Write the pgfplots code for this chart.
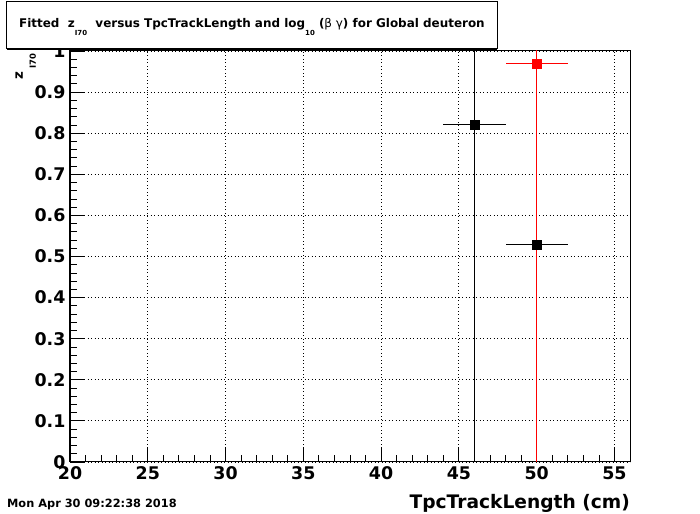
\documentclass[border=0pt]{standalone}
\usepackage{fontspec}
\setmainfont{DejaVu Sans}
\usepackage{pgfplots}
\pgfplotsset{compat=1.18}
\begin{document}
\begin{tikzpicture}[x=1bp,y=1bp]
\path[use as bounding box] (-70,-52) rectangle (630,462);
\begin{axis}[
  at={(0,0)}, anchor=south west,
  scale only axis, width=560bp, height=411bp,
  xmin=20, xmax=56, ymin=0, ymax=1,
  xtick={20,25,30,35,40,45,50,55},
  ytick={0,0.1,0.2,0.3,0.4,0.5,0.6,0.7,0.8,0.9,1},
  yticklabels={0,0.1,0.2,0.3,0.4,0.5,0.6,0.7,0.8,0.9,1},
  minor x tick num=4, minor y tick num=4,
  tick pos=left, tick align=inside,
  major tick length=14bp, minor tick length=7bp,
  tick style={black, line width=0.8bp},
  grid=major,
  major grid style={black, line width=0.8bp, dash pattern=on 0.9bp off 2.6bp},
  axis line style={black, line width=1bp},
  /pgf/number format/assume math mode=true,
  tick label style={font=\fontsize{17.5}{17.5}\selectfont\bfseries},
  xticklabel style={yshift=-1bp},
  yticklabel style={xshift=-1bp},
  clip=true,
]
\addplot[black, only marks, mark=square*, mark size=4.4bp, mark options={solid, fill=black},
  error bars/.cd, x dir=both, x explicit, y dir=both, y explicit,
  error mark=none, error bar style={line width=1bp, black}]
  table[x=x, y=y, x error=ex, y error=ey] {
  x   y     ex  ey
  46  0.82  2   2.0
  50  0.528 2   2.0
};
\addplot[red, only marks, mark=square*, mark size=4.4bp, mark options={solid, fill=red},
  error bars/.cd, x dir=both, x explicit, y dir=both, y explicit,
  error mark=none, error bar style={line width=1bp, red}]
  table[x=x, y=y, x error=ex, y error=ey] {
  x   y     ex  ey
  50  0.97  2   2.0
};
\end{axis}
% title box
\fill[white] (-63,413) rectangle (427,460);
\draw[black, line width=1bp] (-63,413) rectangle (427,460);
\draw[black, line width=2bp] (-63,412.5) -- (427,412.5);
\node[anchor=base west, inner sep=0, font=\fontsize{12}{12}\selectfont\bfseries] at (-51,434)
  {Fitted \ z\raisebox{-8bp}{\fontsize{7}{7}\selectfont I70} \ versus TpcTrackLength and log\raisebox{-8bp}{\fontsize{7}{7}\selectfont 10} ({\mdseries β γ}) for Global deuteron};
% y label
\node[rotate=90, anchor=base west, inner sep=0, font=\fontsize{13.5}{13.5}\selectfont\bfseries] at (-47,382)
  {z\hspace{3bp}\raisebox{-13bp}{\fontsize{8.5}{8.5}\selectfont I70}};
% x label
\node[anchor=base east, inner sep=0, font=\fontsize{18.7}{18.7}\selectfont\bfseries] at (560,-47)
  {TpcTrackLength (cm)};
% date
\node[anchor=base west, inner sep=0, font=\fontsize{11.4}{11.4}\selectfont\bfseries] at (-63,-46)
  {Mon Apr 30 09:22:38 2018};
\end{tikzpicture}
\end{document}
